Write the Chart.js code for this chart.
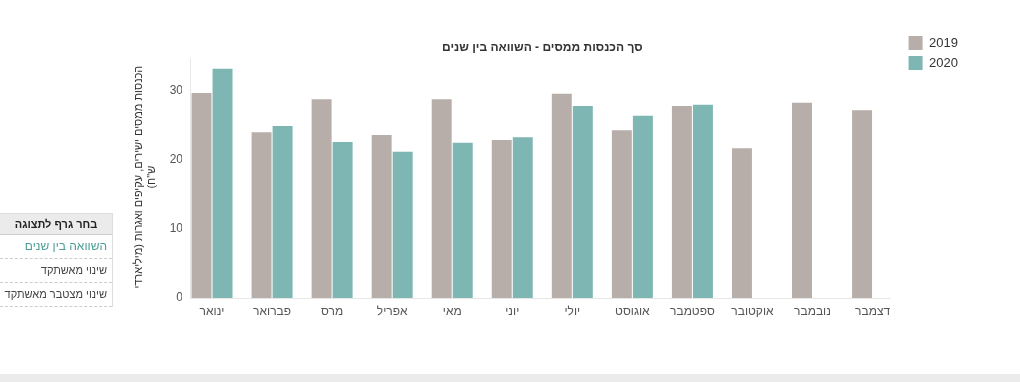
<!DOCTYPE html>
<html lang="he">
<head>
<meta charset="utf-8">
<script src="https://cdn.jsdelivr.net/npm/chart.js@4"></script>
<style>
  html, body { margin: 0; padding: 0; background: #fff; width: 1020px; height: 382px; overflow: hidden; font-family: Arial, "Liberation Sans", sans-serif; }
  #wrap { position: absolute; left: 0; top: 0; width: 1020px; height: 340px; }
  #menu { position: absolute; left: 0; top: 213px; width: 112px; border-right: 1px solid #ddd; direction: rtl; font-size: 11px; }
  #menu div { height: 23px; line-height: 23px; padding-right: 5px; border-bottom: 1px dashed #ccc; color: #444; white-space: nowrap; }
  #menu div.head { background: #ebebeb; font-weight: bold; text-align: center; padding-right: 0; color: #222; border-top: 1px solid #ddd; border-bottom: 1px solid #ccc; height: 20px; line-height: 20px; }
  #menu div.sel { color: #4c9e97; font-size: 12px; }
  #band { position: absolute; left: 0; top: 374px; width: 1020px; height: 8px; background: #ebebeb; }
</style>
</head>
<body>
<div id="wrap"><canvas id="c" width="1020" height="340" dir="rtl"></canvas></div>
<div id="menu">
  <div class="head">בחר גרף לתצוגה</div>
  <div class="sel">השוואה בין שנים</div>
  <div>שינוי מאשתקד</div>
  <div>שינוי מצטבר מאשתקד</div>
</div>
<div id="band"></div>
<script>
const months = ["ינואר","פברואר","מרס","אפריל","מאי","יוני","יולי","אוגוסט","ספטמבר","אוקטובר","נובמבר","דצמבר"];
const values2019 = [29.7, 24.0, 28.8, 23.6, 28.8, 22.9, 29.6, 24.3, 27.8, 21.7, 28.3, 27.2];
const values2020 = [33.2, 24.9, 22.6, 21.2, 22.5, 23.3, 27.8, 26.4, 28.0, null, null, null];
const yTicks = [0, 10, 20, 30];
const chartTitle = "סך הכנסות ממסים - השוואה בין שנים";
const yTitle = ["הכנסות ממסים ישירים, עקיפים ואגרות (מיליארדי", "ש\"ח)"];

const FONT = "Arial, 'Liberation Sans', sans-serif";

// draws the light axis lines slightly inset, as in the original
const axisLines = {
  id: 'axisLines',
  beforeDatasetsDraw(chart) {
    const { ctx, chartArea: a } = chart;
    ctx.save();
    ctx.strokeStyle = '#e6e6e6';
    ctx.lineWidth = 1;
    ctx.beginPath();
    ctx.moveTo(a.left + 8.5, a.top + 2);
    ctx.lineTo(a.left + 8.5, a.bottom);
    ctx.moveTo(a.left + 8, a.bottom + 0.5);
    ctx.lineTo(a.right - 12, a.bottom + 0.5);
    ctx.stroke();
    ctx.restore();
  }
};

new Chart(document.getElementById('c'), {
  type: 'bar',
  data: {
    labels: months,
    datasets: [
      { label: '2019', data: values2019, backgroundColor: '#b8aea9', borderWidth: 0 },
      { label: '2020', data: values2020, backgroundColor: '#7db6b2', borderWidth: 0 }
    ]
  },
  plugins: [axisLines],
  options: {
    responsive: false,
    animation: false,
    events: [],
    categoryPercentage: 0.7,
    barPercentage: 0.95,
    layout: { padding: { left: 120, top: 30, right: 52, bottom: 12 } },
    plugins: {
      tooltip: { enabled: false },
      title: {
        display: true, text: chartTitle, fullSize: false,
        color: '#333', font: { family: FONT, size: 12, weight: 'bold' },
        padding: { top: 10, bottom: 2 }
      },
      legend: {
        position: 'right', align: 'start',
        labels: { boxWidth: 14, boxHeight: 14, padding: 6, color: '#333', font: { family: FONT, size: 13 } }
      }
    },
    scales: {
      x: {
        grid: { display: false, drawTicks: false },
        border: { display: false },
        ticks: { color: '#555', font: { family: FONT, size: 12 }, padding: 6, maxRotation: 0 },
        afterFit: s => { s.height = 30; }
      },
      y: {
        min: 0, max: 35,
        grid: { display: false, drawTicks: false },
        border: { display: false },
        ticks: { color: '#555', font: { family: FONT, size: 12 }, padding: -1 },
        afterBuildTicks: s => { s.ticks = yTicks.map(v => ({ value: v })); },
        afterFit: s => { s.width = 62; },
        title: {
          display: true, text: yTitle, color: '#333',
          font: { family: FONT, size: 11, lineHeight: 1.15 },
          padding: { top: 13, bottom: 0 }
        }
      }
    }
  }
});
</script>
</body>
</html>
